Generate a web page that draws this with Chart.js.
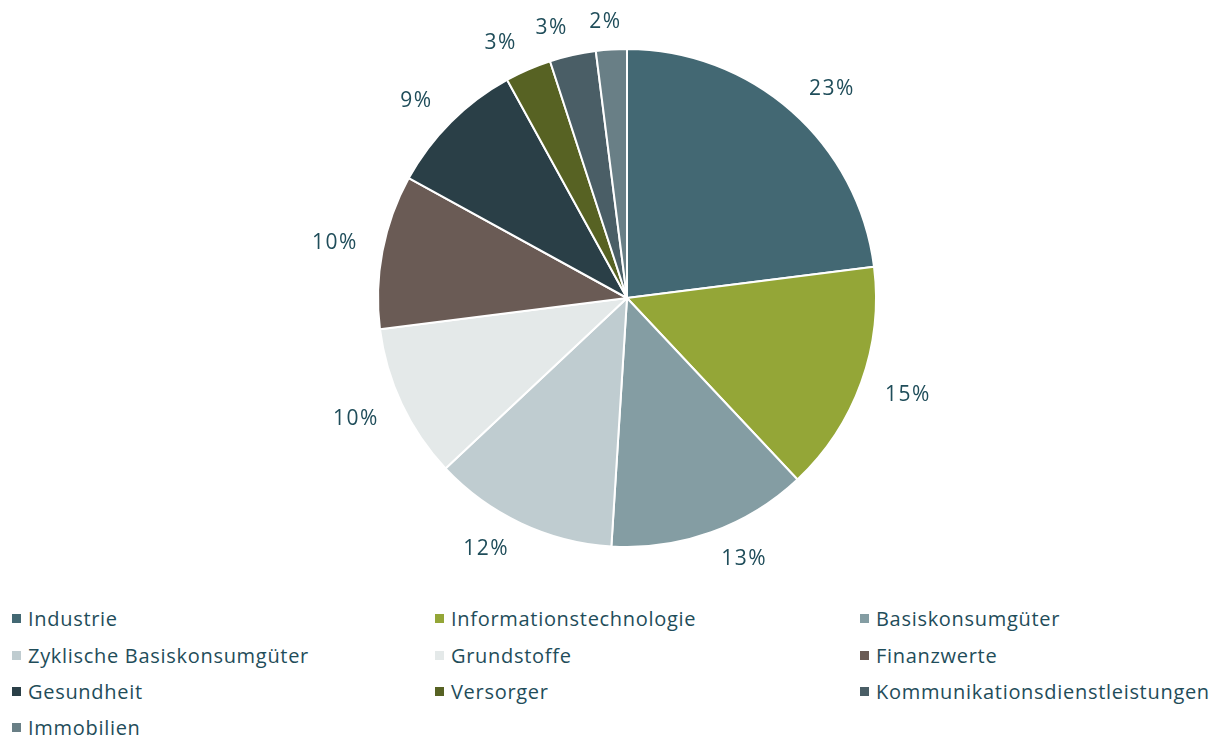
<!DOCTYPE html>
<html>
<head>
<meta charset="utf-8">
<script src="https://cdn.jsdelivr.net/npm/chart.js@4.4.0/dist/chart.umd.min.js"></script>
<style>
  html, body { margin: 0; padding: 0; background: #ffffff; }
  body { width: 1216px; height: 737px; position: relative; overflow: hidden; font-family: "Open Sans", "Noto Sans", sans-serif; }
  #wrap { position: absolute; left: 0; top: 0; width: 1216px; height: 600px; }
  #legend { position: absolute; left: 0; top: 600px; width: 1216px; }
  .item { position: absolute; display: flex; align-items: center; font-size: 20px; letter-spacing: 0.7px; color: #1f4d5a; white-space: nowrap; height: 30px; }
  .sw { width: 9px; height: 9px; margin-right: 7px; flex: none; }
</style>
</head>
<body>
<div id="wrap"><canvas id="c" width="1216" height="600"></canvas></div>
<div id="legend"></div>
<script>
const categories = ["Industrie", "Informationstechnologie", "Basiskonsumgüter", "Zyklische Basiskonsumgüter", "Grundstoffe", "Finanzwerte", "Gesundheit", "Versorger", "Kommunikationsdienstleistungen", "Immobilien"];
const shares = [23, 15, 13, 12, 10, 10, 9, 3, 3, 2];
const colors = ["#436873", "#94a637", "#849da3", "#bfccd0", "#e4e9e9", "#6a5b55", "#2a3f47", "#576223", "#4a5e66", "#697f86"];
const textColor = "#1f4d5a";

const outsideLabels = {
  id: "outsideLabels",
  afterDatasetsDraw(chart) {
    const ctx = chart.ctx;
    const meta = chart.getDatasetMeta(0);
    const ds = chart.data.datasets[0];
    ctx.save();
    ctx.font = '21px "Open Sans", "Noto Sans", sans-serif';
    try { ctx.letterSpacing = "1.5px"; } catch (e) {}
    ctx.fillStyle = textColor;
    ctx.textAlign = "center";
    ctx.textBaseline = "middle";
    meta.data.forEach((arc, i) => {
      const p = arc.getProps(["x", "y", "startAngle", "endAngle", "outerRadius"], true);
      const mid = (p.startAngle + p.endAngle) / 2;
      const ux = Math.cos(mid), uy = Math.sin(mid);
      const R = p.outerRadius + 23;
      const txt = ds.data[i] + "%";
      const w = ctx.measureText(txt).width + 4;
      const h = 10;
      const cl = v => Math.max(-1, Math.min(1, v));
      const cx = p.x + R * ux + (w / 2) * cl(4 * ux);
      const cy = p.y + R * uy + (h / 2) * cl(4 * uy);
      ctx.fillText(txt, cx, cy);
    });
    ctx.restore();
  }
};

const chart = new Chart(document.getElementById("c"), {
  type: "pie",
  data: {
    labels: categories,
    datasets: [{
      data: shares,
      backgroundColor: colors,
      borderColor: "#ffffff",
      borderWidth: 2,
      radius: 249
    }]
  },
  options: {
    responsive: false,
    animation: false,
    layout: { padding: { left: 38, right: 0, top: 49, bottom: 53 } },
    plugins: {
      legend: { display: false },
      tooltip: { enabled: false }
    }
  },
  plugins: [outsideLabels]
});

// HTML legend built from chart data (3 columns)
const legend = document.getElementById("legend");
const colX = [12, 435, 860];
const rowY = [3, 40, 76, 112];
chart.data.labels.forEach((lab, i) => {
  const d = document.createElement("div");
  d.className = "item";
  d.style.left = colX[i % 3] + "px";
  d.style.top = rowY[Math.floor(i / 3)] + "px";
  const s = document.createElement("span");
  s.className = "sw";
  s.style.background = chart.data.datasets[0].backgroundColor[i];
  const t = document.createElement("span");
  t.textContent = lab;
  d.appendChild(s); d.appendChild(t);
  legend.appendChild(d);
});
</script>
</body>
</html>
